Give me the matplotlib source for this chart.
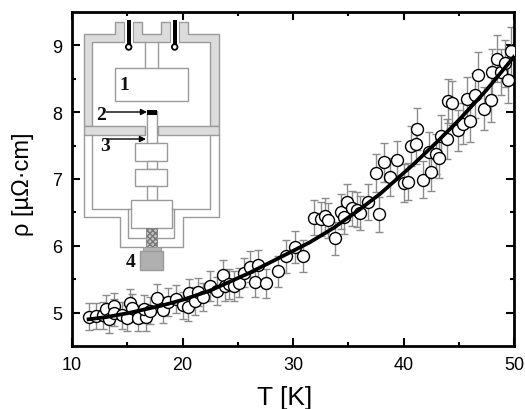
import matplotlib
matplotlib.use('Agg')
import matplotlib.pyplot as plt
from matplotlib.patches import Polygon, Rectangle, Circle

plt.rcParams['font.family'] = ['Liberation Sans', 'DejaVu Sans']

T = [11.5, 12.2, 12.8, 13.05, 13.35, 13.8, 13.8, 14.5, 14.95, 15.25, 15.4, 15.95, 16.7, 16.55, 17.1, 17.65,
     18.2, 18.7, 19.45, 20.05, 20.5, 20.6, 21.1, 21.4, 21.9, 22.5, 23.1, 23.65, 23.85, 24.2, 24.7, 25.1,
     25.55, 26.1, 26.55, 26.8, 27.55, 28.65, 29.4, 30.15, 30.9, 31.9, 32.5, 32.9, 33.2, 33.8, 34.3, 34.6,
     34.85, 35.3, 35.8, 36.1, 36.8, 37.75, 37.5, 38.2, 38.8, 39.4, 40.05, 40.4, 40.7, 41.1, 41.25, 41.8,
     42.3, 42.5, 42.9, 43.2, 43.35, 43.95, 44.05, 44.4, 44.9, 45.4, 45.75, 46.0, 46.5, 46.7, 47.3, 47.9,
     48.0, 48.5, 48.8, 49.2, 49.5, 49.7]
rho = [4.94, 4.95, 4.96, 5.06, 4.9, 5.1, 5.0, 4.96, 4.92, 5.14, 5.07, 4.92, 4.93, 5.06, 5.03, 5.22,
       5.04, 5.16, 5.21, 5.11, 5.08, 5.3, 5.17, 5.31, 5.23, 5.4, 5.33, 5.56, 5.4, 5.43, 5.4, 5.45,
       5.6, 5.69, 5.46, 5.71, 5.44, 5.62, 5.84, 5.98, 5.85, 6.42, 6.4, 6.45, 6.38, 6.11, 6.51, 6.43,
       6.65, 6.56, 6.54, 6.49, 6.65, 6.47, 7.09, 7.25, 7.03, 7.28, 6.94, 6.96, 7.5, 7.52, 7.75, 6.99,
       7.41, 7.1, 7.37, 7.31, 7.65, 7.6, 8.17, 8.14, 7.73, 7.83, 8.2, 7.87, 8.25, 8.56, 8.05, 8.19,
       8.6, 8.8, 8.6, 8.73, 8.48, 8.91]
rho_err = [0.2, 0.2, 0.2, 0.2, 0.2, 0.2, 0.2, 0.2, 0.2, 0.21, 0.21, 0.2, 0.2, 0.21, 0.2, 0.21,
           0.2, 0.21, 0.21, 0.2, 0.2, 0.21, 0.21, 0.21, 0.21, 0.22, 0.21, 0.22, 0.22, 0.22, 0.22, 0.22,
           0.22, 0.23, 0.22, 0.23, 0.22, 0.23, 0.24, 0.24, 0.24, 0.26, 0.26, 0.26, 0.26, 0.25, 0.26, 0.26,
           0.27, 0.26, 0.26, 0.26, 0.27, 0.26, 0.28, 0.29, 0.28, 0.29, 0.28, 0.28, 0.3, 0.3, 0.31, 0.28,
           0.3, 0.28, 0.3, 0.29, 0.31, 0.3, 0.33, 0.33, 0.31, 0.31, 0.33, 0.31, 0.33, 0.34, 0.32, 0.33,
           0.34, 0.35, 0.34, 0.35, 0.34, 0.36]

fit_T = [11.5, 13, 15, 18, 20, 22.5, 26, 29, 31.5, 33.7, 36, 37.9, 40.9, 43, 45, 47.5, 50]
fit_rho = [4.9, 4.93, 4.99, 5.1, 5.19, 5.33, 5.59, 5.84, 6.05, 6.27, 6.54, 6.78, 7.22, 7.55, 7.88, 8.33, 8.83]

fig = plt.figure(figsize=(5.25, 4.1), dpi=100)
ax = fig.add_axes([72/525, 1-347/410, (514-72)/525, (347-13)/410])

ax.errorbar(T, rho, yerr=rho_err, fmt='none', ecolor='#8c8c8c', elinewidth=1.0, capsize=3, capthick=1.0, zorder=2)
ax.plot(T, rho, 'o', ms=8.6, mfc='white', mec='black', mew=1.0, zorder=3)
ax.plot(fit_T, fit_rho, '-', color='black', lw=2.7, zorder=4)

ax.set_xlim(10, 50)
ax.set_ylim(4.5, 9.5)
ax.set_xticks([10, 20, 30, 40, 50])
ax.set_xticks([15, 25, 35, 45], minor=True)
ax.set_yticks([5, 6, 7, 8, 9])
ax.set_yticks([5.5, 6.5, 7.5, 8.5], minor=True)
ax.tick_params(which='major', direction='in', length=6, width=1.5, top=True, right=True, labelsize=13, pad=7)
ax.tick_params(which='minor', direction='in', length=3, width=1.5, top=True, right=True)
for s in ax.spines.values():
    s.set_linewidth(2.0)
fig.text(285/525, 1-398/410, 'T [K]', fontsize=19, ha='center', va='center')
fig.text(23/525, 1-184/410, 'ρ [µΩ·cm]', fontsize=17, rotation=90, ha='center', va='center')

# apparatus sketch, drawn in image pixels
sk = fig.add_axes([0, 0, 1, 1], facecolor='none')
sk.set_xlim(0, 525)
sk.set_ylim(410, 0)
sk.axis('off')
G = '#9a9a9a'
kw = dict(fc='white', ec=G, lw=1.0)

wall = [(84, 127), (84, 35), (115, 35), (115, 23), (142, 23), (142, 35), (161, 35), (161, 23), (188, 23), (188, 35),
        (219, 35), (219, 127), (210, 127), (210, 43), (92, 43), (92, 127)]
sk.add_patch(Polygon(wall, fc='#dcdcdc', ec=G, lw=1.0))
for x in (124, 170):
    sk.add_patch(Rectangle((x, 22), 9, 22, fc='white', ec='none'))
    sk.plot([x, x], [23, 43], color=G, lw=0.8)
    sk.plot([x+9, x+9], [23, 43], color=G, lw=0.8)
    sk.add_patch(Rectangle((x+2.5, 21), 4.5, 24, fc='black', ec='none'))
    sk.add_patch(Circle((x+4.7, 48), 2.8, fc='white', ec='black', lw=1.3))
sk.add_patch(Rectangle((84, 127), 61, 9, fc='#dcdcdc', ec=G, lw=1.0))
sk.add_patch(Rectangle((158, 127), 61, 9, fc='#dcdcdc', ec=G, lw=1.0))

sk.plot([145, 145], [43, 69], color=G, lw=1.0)
sk.plot([158, 158], [43, 69], color=G, lw=1.0)
sk.add_patch(Rectangle((115, 69), 73, 33, **kw))
sk.add_patch(Rectangle((147, 112), 10, 33, **kw))
sk.add_patch(Rectangle((147, 111), 10, 5, fc='black', ec='none'))
sk.add_patch(Rectangle((135, 144), 32, 18, **kw))
sk.add_patch(Rectangle((147, 162), 10, 8, **kw))
sk.add_patch(Rectangle((135, 170), 32, 17, **kw))
sk.add_patch(Rectangle((147, 187), 10, 14, **kw))

# lower housing outlines
sk.plot([84, 84, 120, 120, 143], [136, 218, 218, 248, 248], color=G, lw=1.0)
sk.plot([92, 92, 131], [136, 210, 210], color=G, lw=1.0)
sk.plot([128, 128, 146], [210, 239, 239], color=G, lw=1.0)
sk.plot([219, 219, 183, 183, 161], [136, 218, 218, 248, 248], color=G, lw=1.0)
sk.plot([210, 210, 172], [136, 210, 210], color=G, lw=1.0)
sk.plot([174, 174, 157], [210, 239, 239], color=G, lw=1.0)
sk.add_patch(Rectangle((131, 201), 41, 28, **kw))

sk.add_patch(Rectangle((146, 229), 11, 19, fc='#c4c4c4', ec='#777777', lw=0.5, hatch='xxxxxx'))
sk.add_patch(Rectangle((143, 248), 18, 4, fc='#b4b4b4', ec=G, lw=0.8))
sk.add_patch(Rectangle((140, 252), 23, 19, fc='#b0b0b0', ec=G, lw=1.0))

for x0, y0, x1 in [(106, 113, 147), (107, 140, 146)]:
    sk.annotate('', xy=(x1, y0), xytext=(x0, y0),
                arrowprops=dict(arrowstyle='-|>', color='black', lw=1.0, mutation_scale=9, shrinkA=0, shrinkB=0))
lab = dict(family='Liberation Serif', fontweight='bold', fontsize=14, ha='center', va='center', color='#111111')
sk.text(124, 86, '1', **lab)
sk.text(101, 115, '2', **lab)
sk.text(105, 147, '3', **lab)
sk.text(131, 263, '4', **lab)

fig.savefig('out.png', dpi=100)
